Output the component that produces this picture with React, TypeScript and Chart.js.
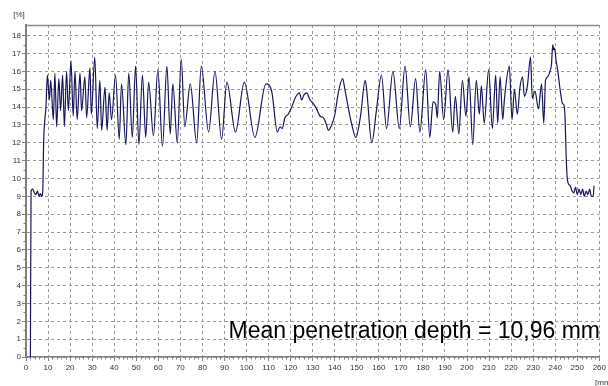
import React, { useEffect, useRef } from "react";
import { Chart, registerables } from "chart.js";
Chart.register(...registerables);

const positionMm = [
  2.0, 2.3, 3.0, 3.8, 4.5, 5.2, 5.9, 6.5, 7.2, 7.6, 8.0, 8.6, 9.0, 9.7,
  10.6, 11.2, 12.4, 13.1, 13.9, 14.9, 15.7, 16.6, 17.4, 18.4, 19.2, 20.4, 21.4, 22.2, 23.2, 24.5, 25.2, 26.7, 27.5, 29.0, 29.6,
  31.2, 32.3, 33.5, 34.3, 35.8, 36.8, 37.7, 38.8, 40.6, 42.3, 43.3, 45.3, 46.6, 48.2, 49.7,
  51.2, 52.8, 54.3, 55.6, 57.8, 59.8, 61.9, 63.9, 65.4, 66.6, 68.6, 70.4, 72.0, 74.5, 77.4, 79.5,
  82.8, 85.7, 88.7, 91.1, 95.0, 99.0, 103.8, 108.8, 111.4, 114.0, 115.2, 116.2, 117.4, 118.9,
  120.5, 122.0, 124.0, 125.0, 126.1, 127.3, 128.8, 130.3, 131.8, 133.3, 134.9, 136.3, 137.1, 138.6,
  140.1, 141.6, 143.6, 144.6, 146.1, 147.6, 149.6, 151.7, 153.8, 154.4, 156.8, 158.9, 161.2, 163.5,
  166.4, 169.3, 171.9, 174.3, 176.7, 178.6, 181.3, 183.1, 184.6, 185.9, 186.5, 187.6, 189.4, 191.4,
  193.5, 194.7, 196.3, 197.9, 199.5, 200.9, 202.6, 204.2, 205.6, 206.5, 207.8, 209.8, 211.5, 213.0,
  213.9, 215.0, 216.2, 217.0, 219.2, 220.4, 221.5, 222.8, 224.0, 225.2, 226.0, 227.4, 228.8, 229.6,
  230.8, 232.4, 233.8, 234.8, 235.6, 236.6, 237.6, 238.3, 238.9, 239.3, 239.7, 240.4, 241.2, 242.3,
  243.3, 244.0, 244.5, 244.9, 245.4, 246.0, 246.8, 247.6, 248.4, 249.2, 250.0, 250.8, 251.6, 252.4,
  253.2, 254.0, 254.8, 255.6, 256.4, 257.2, 257.6,
];

const penetration = [
  0, 9.3, 9.4, 9.2, 9.1, 9.3, 9.0, 9.15, 9.0, 9.3, 12.0, 13.4, 13.9, 15.8,
  14.4, 15.5, 13.3, 15.9, 12.9, 15.6, 13.8, 15.8, 12.9, 16.0, 13.8, 16.6, 13.5, 16.0, 13.3, 15.9, 13.8, 15.7, 13.4, 16.2, 13.6,
  16.8, 12.8, 15.5, 12.7, 15.1, 12.7, 14.8, 13.3, 15.8, 12.2, 15.3, 11.9, 15.9, 12.3, 16.3,
  11.9, 15.8, 12.3, 15.4, 12.4, 16.1, 11.8, 16.3, 12.5, 15.3, 12.0, 16.7, 12.9, 15.3, 12.0, 16.3,
  12.6, 16.0, 12.2, 15.4, 12.6, 15.4, 12.3, 15.3, 14.9, 12.6, 12.9, 12.8, 13.4, 13.6,
  14.0, 14.5, 14.8, 14.4, 14.7, 14.8, 14.4, 14.2, 13.9, 13.5, 13.4, 13.0, 12.7, 13.0,
  13.6, 14.8, 15.6, 15.0, 14.0, 13.1, 12.3, 13.5, 15.5, 15.1, 12.0, 13.8, 15.8, 12.8,
  16.0, 12.8, 16.3, 12.9, 15.6, 12.6, 16.1, 12.3, 14.3, 14.1, 13.4, 16.0, 13.3, 16.1,
  12.6, 14.6, 12.5, 15.5, 13.5, 15.7, 11.9, 15.5, 13.6, 15.2, 13.1, 16.1, 12.8, 15.8,
  13.1, 15.7, 13.3, 14.5, 16.3, 13.3, 15.0, 13.6, 15.1, 15.7, 14.6, 15.2, 16.8, 14.5,
  14.9, 13.9, 15.3, 13.1, 15.5, 15.7, 16.0, 16.4, 17.5, 17.2, 17.3, 16.6, 16.0, 14.9,
  14.2, 14.1, 13.3, 11.5, 10.1, 9.7, 9.6, 9.3, 9.2, 9.5, 9.1, 9.4, 9.1, 9.4,
  9.0, 9.3, 9.1, 9.4, 9.0, 9.0, 9.6,
];

const xMin = 0;
const xMax = 260;
const xStep = 10;
const yMin = 0;
const yMax = 18.6;
const yStep = 1;
const yUnit = "[%]";
const xUnit = "[mm]";
const annotationText = "Mean penetration depth = 10,96 mm";

const FONT = "'Liberation Sans', Arial, sans-serif";

export default function App() {
  const ref = useRef<HTMLCanvasElement>(null);
  useEffect(() => {
    if (!ref.current) return;
    const data = positionMm.map((x, i) => ({ x, y: penetration[i] }));
    const decor = {
      id: "decor",
      afterDraw(chart: any) {
        const { ctx, chartArea: ca, scales } = chart;
        const xs = scales.x;
        const ys = scales.y;
        ctx.save();
        // top frame line
        ctx.strokeStyle = "#8a8a8a";
        ctx.lineWidth = 1.5;
        ctx.beginPath();
        ctx.moveTo(ca.left, ca.top + 0.5);
        ctx.lineTo(ca.right, ca.top + 0.5);
        ctx.stroke();
        // minor ticks
        ctx.strokeStyle = "#808080";
        ctx.lineWidth = 1;
        ctx.beginPath();
        for (let v = xMin; v <= xMax; v += 2) {
          if (v % xStep === 0) continue;
          const px = Math.round(xs.getPixelForValue(v)) + 0.5;
          ctx.moveTo(px, ca.bottom);
          ctx.lineTo(px, ca.bottom + 2.5);
        }
        for (let v = yMin + 0.5; v < 18.5; v += 1) {
          const py = Math.round(ys.getPixelForValue(v)) + 0.5;
          ctx.moveTo(ca.left, py);
          ctx.lineTo(ca.left - 2.5, py);
        }
        ctx.stroke();
        // units
        ctx.fillStyle = "#333";
        ctx.font = `8px ${FONT}`;
        ctx.textAlign = "center";
        ctx.textBaseline = "middle";
        ctx.fillText(yUnit, 19, 15);
        ctx.textAlign = "left";
        ctx.textBaseline = "top";
        ctx.fillText(xUnit, 595, 379);
        // annotation
        ctx.fillStyle = "#000";
        ctx.font = `23px ${FONT}`;
        ctx.textAlign = "right";
        ctx.textBaseline = "alphabetic";
        ctx.fillText(annotationText, 600, 338);
        ctx.restore();
      },
    };
    const chart = new Chart(ref.current, {
      type: "line",
      data: {
        datasets: [
          {
            data,
            borderColor: "#16165c",
            borderWidth: 1.2,
            pointRadius: 0,
            cubicInterpolationMode: "monotone",
            fill: false,
          },
        ],
      },
      options: {
        animation: false,
        responsive: false,
        events: [],
        layout: { padding: { left: 0, right: 8, top: 25, bottom: 0 } },
        plugins: { legend: { display: false }, tooltip: { enabled: false } },
        scales: {
          x: {
            type: "linear",
            min: xMin,
            max: xMax,
            afterFit: (s: any) => {
              s.height = 29;
            },
            ticks: {
              stepSize: xStep,
              autoSkip: false,
              maxRotation: 0,
              padding: 2,
              color: "#333",
              font: { family: FONT, size: 8 },
            },
            grid: {
              color: "#999999",
              lineWidth: 1,
              tickColor: "#808080",
              tickLength: 4,
              tickBorderDash: [],
            },
            border: { color: "#808080", width: 1.5, dash: [3, 3] },
          },
          y: {
            type: "linear",
            min: yMin,
            max: yMax,
            afterBuildTicks: (s: any) => {
              s.ticks = s.ticks.filter(
                (t: any) => Math.abs(t.value - Math.round(t.value)) < 1e-6
              );
            },
            afterFit: (s: any) => {
              s.width = 26;
            },
            ticks: {
              stepSize: yStep,
              padding: 1,
              color: "#333",
              font: { family: FONT, size: 8 },
            },
            grid: {
              color: "#999999",
              lineWidth: 1,
              tickColor: "#808080",
              tickLength: 4,
              tickBorderDash: [],
            },
            border: { color: "#808080", width: 2, dash: [3, 3] },
          },
        },
      },
      plugins: [decor],
    } as any);
    return () => chart.destroy();
  }, []);
  return (
    <div
      style={{
        position: "fixed",
        left: 0,
        top: 0,
        width: 608,
        height: 386,
        background: "#fff",
      }}
    >
      <canvas ref={ref} width={608} height={386} style={{ display: "block" }} />
    </div>
  );
}
